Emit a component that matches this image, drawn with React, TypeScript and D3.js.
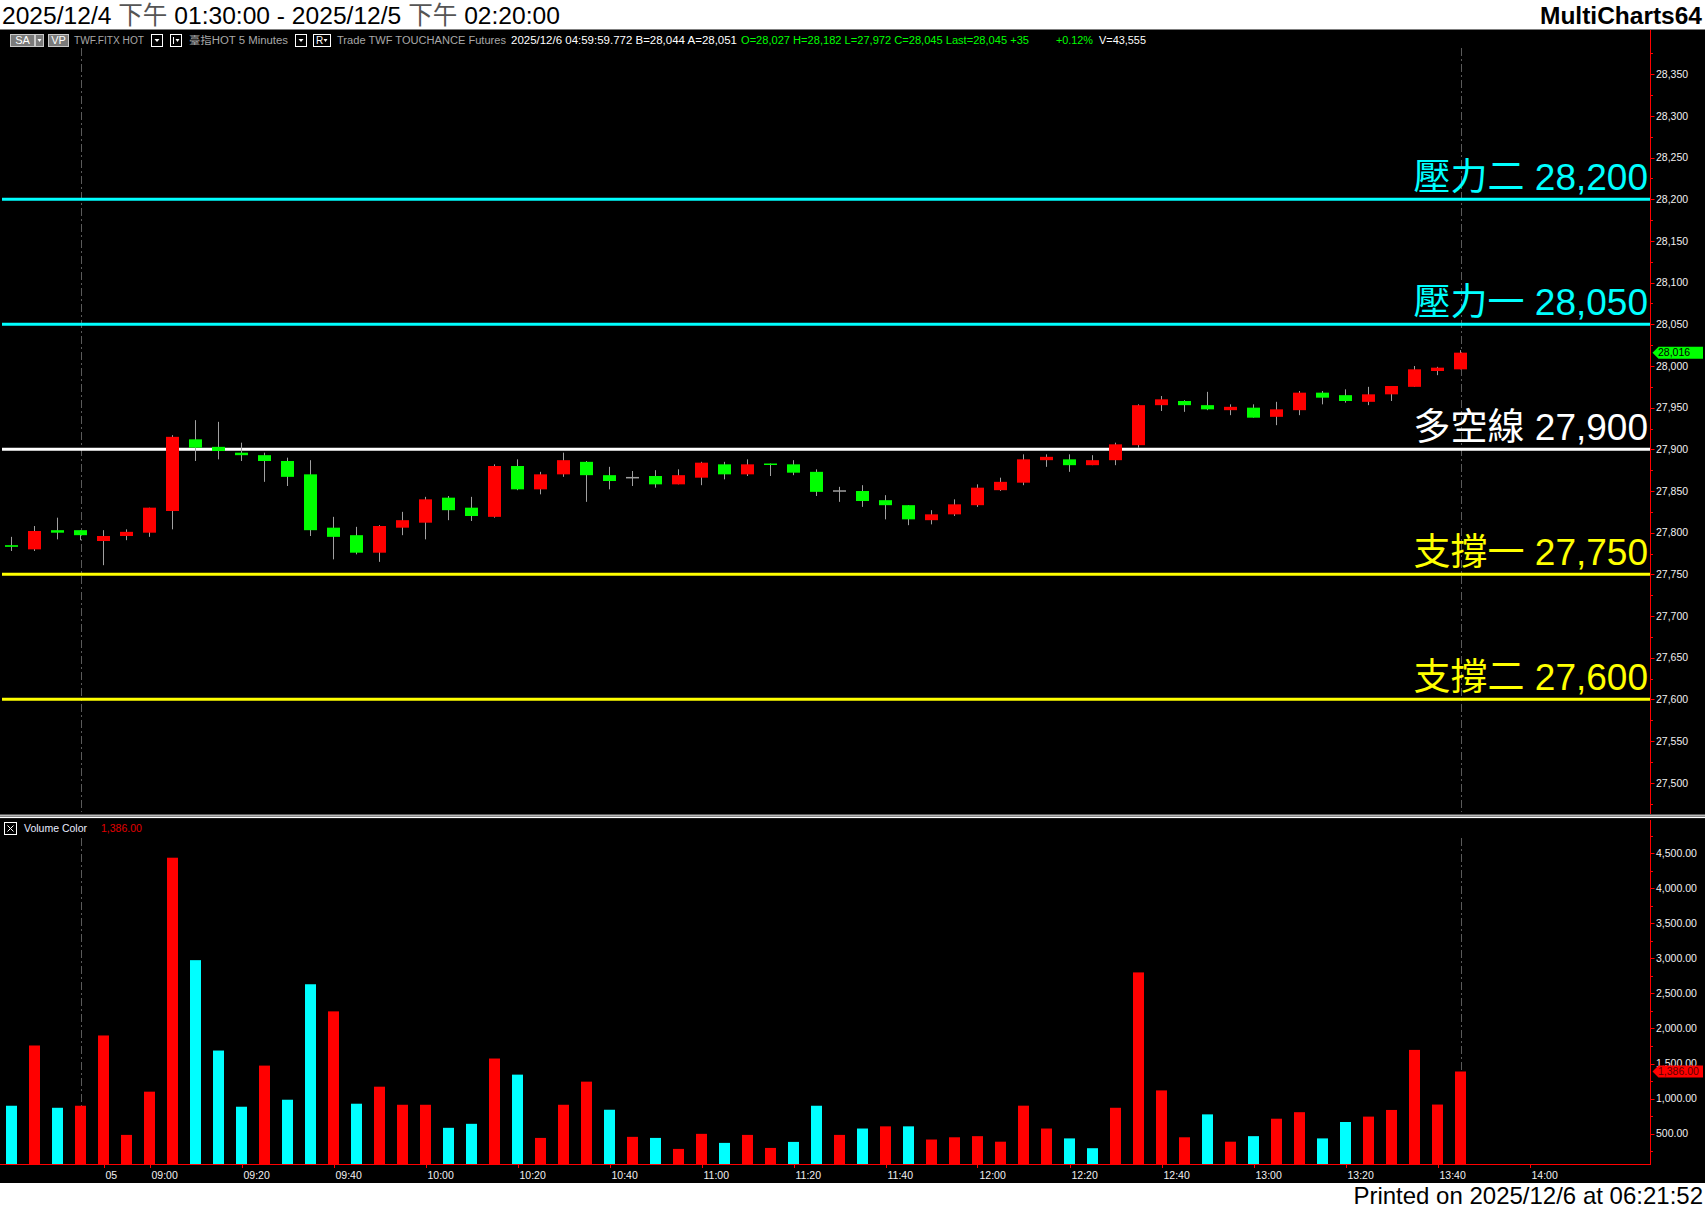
import React from 'react';
import * as d3 from 'd3';

const W = 1705;
const H = 1211;

// ---------- DATA ----------
const opens = [27785, 27780, 27803, 27803, 27790, 27796, 27800, 27826, 27912, 27903, 27896, 27893, 27886, 27870, 27806, 27797, 27776, 27806, 27812, 27842, 27830, 27819, 27880, 27852, 27870, 27885, 27869, 27866, 27868, 27858, 27866, 27882, 27870, 27883, 27882, 27873, 27850, 27850, 27839, 27833, 27815, 27822, 27833, 27851, 27860, 27887, 27888, 27881, 27887, 27905, 27953, 27958, 27953, 27947, 27950, 27939, 27947, 27968, 27965, 27957, 27966, 27975, 27994, 27996];
const highs = [27795, 27808, 27818, 27803, 27803, 27804, 27830, 27917, 27935, 27933, 27908, 27896, 27890, 27887, 27819, 27807, 27809, 27825, 27843, 27844, 27843, 27882, 27888, 27873, 27896, 27886, 27879, 27874, 27875, 27876, 27885, 27885, 27888, 27883, 27887, 27876, 27855, 27857, 27845, 27833, 27827, 27840, 27858, 27866, 27894, 27894, 27894, 27893, 27908, 27954, 27964, 27959, 27969, 27954, 27954, 27957, 27970, 27970, 27972, 27975, 27976, 28000, 27999, 28019];
const lows = [27778, 27778, 27792, 27791, 27761, 27791, 27795, 27804, 27886, 27888, 27886, 27861, 27856, 27796, 27768, 27774, 27765, 27797, 27792, 27815, 27814, 27818, 27851, 27846, 27867, 27837, 27852, 27856, 27854, 27858, 27857, 27864, 27868, 27868, 27869, 27844, 27837, 27831, 27816, 27809, 27810, 27820, 27831, 27850, 27857, 27879, 27873, 27881, 27881, 27902, 27946, 27945, 27947, 27941, 27938, 27929, 27941, 27954, 27956, 27953, 27958, 27975, 27989, 27996];
const closes = [27783, 27802, 27800, 27797, 27796, 27801, 27830, 27915, 27902, 27898, 27893, 27886, 27867, 27803, 27795, 27776, 27808, 27815, 27840, 27827, 27820, 27880, 27852, 27870, 27887, 27869, 27862, 27866, 27858, 27869, 27884, 27870, 27882, 27882, 27872, 27849, 27850, 27838, 27833, 27816, 27822, 27834, 27854, 27861, 27888, 27891, 27881, 27887, 27906, 27953, 27960, 27953, 27948, 27951, 27938, 27948, 27968, 27962, 27958, 27966, 27976, 27996, 27998, 28016];
const volumes = [897, 1757, 868, 897, 1900, 481, 1098, 4437, 2975, 1685, 883, 1470, 983, 2631, 2244, 926, 1169, 911, 911, 582, 639, 1571, 1341, 438, 911, 1241, 840, 453, 438, 281, 496, 367, 481, 295, 381, 897, 481, 572, 603, 603, 415, 447, 463, 384, 898, 572, 431, 291, 868, 2800, 1116, 447, 774, 384, 463, 712, 805, 431, 665, 742, 837, 1694, 914, 1386];
const volumeUp = [0, 1, 0, 1, 1, 1, 1, 1, 0, 0, 0, 1, 0, 0, 1, 0, 1, 1, 1, 0, 0, 1, 0, 1, 1, 1, 0, 1, 0, 1, 1, 0, 1, 1, 0, 0, 1, 0, 1, 0, 1, 1, 1, 1, 1, 1, 0, 0, 1, 1, 1, 1, 0, 1, 0, 1, 1, 0, 0, 1, 1, 1, 1, 1];

const priceTicks = [27500, 27550, 27600, 27650, 27700, 27750, 27800, 27850, 27900, 27950, 28000, 28050, 28100, 28150, 28200, 28250, 28300, 28350];
const volumeTicks = [500, 1000, 1500, 2000, 2500, 3000, 3500, 4000, 4500];
const timeLabels = ['05', '09:00', '09:20', '09:40', '10:00', '10:20', '10:40', '11:00', '11:20', '11:40', '12:00', '12:20', '12:40', '13:00', '13:20', '13:40', '14:00'];
const timeLabelBars = [4, 6, 10, 14, 18, 22, 26, 30, 34, 38, 42, 46, 50, 54, 58, 62, 66];

const levelNames = ['壓力二', '壓力一', '多空線', '支撐一', '支撐二'];
const levelValues = [28200, 28050, 27900, 27750, 27600];

const lastPrice = 28016;
const lastVolume = 1386;
const sessionBreakBar = 3;
const lastBar = 63;

// ---------- STYLE ----------
const levelColors = ['#00FFFF', '#00FFFF', '#FFFFFF', '#FFFF00', '#FFFF00'];
const FONT = "'Liberation Sans', Arial, 'Noto Sans CJK TC', sans-serif";
const UP = '#FF0000';
const DOWN = '#00FF00';
const VOL_DOWN = '#00FFFF';
const AXIS = '#FF0000';
const WICK = '#A0A0A0';

const fmt = d3.format(',');
const fmt2 = d3.format(',.2f');

export default function App() {
  const x = d3.scaleLinear().domain([0, 66]).range([11.5, 11.5 + 66 * 23]);
  const y = d3.scaleLinear().domain([27500, 28000]).range([782.7, 366]);
  const yv = d3.scaleLinear().domain([0, 4500]).range([1168.6, 853.3]);

  const axisX = 1650.5;
  const priceTop = 30;
  const priceBottom = 813;
  const volTop = 820;
  const volBottom = 1165;

  const minorPrice = d3.range(27475, 28400, 50);
  const minorVol = d3.range(250, 4800, 500);

  return (
    <svg width={W} height={H} style={{ position: 'absolute', left: 0, top: 0, display: 'block' }} fontFamily={FONT}>
      <rect x={0} y={0} width={W} height={H} fill="#FFFFFF" />
      <rect x={0} y={29.5} width={W} height={1183 - 29.5} fill="#000000" />

      {/* Title */}
      <text x={2} y={24} fontSize={24.6} fill="#000">
        <tspan>2025/12/4 </tspan>
        <tspan fill="#555">下午</tspan>
        <tspan> 01:30:00 - 2025/12/5 </tspan>
        <tspan fill="#555">下午</tspan>
        <tspan> 02:20:00</tspan>
      </text>
      <text x={1702} y={24} fontSize={24.5} fontWeight="bold" textAnchor="end" fill="#000">MultiCharts64</text>
      <text x={1703} y={1204} fontSize={24} textAnchor="end" fill="#000">Printed on 2025/12/6 at 06:21:52</text>

      {/* Toolbar */}
      <g fontSize={10}>
        <rect x={10.5} y={34.5} width={24} height={12} fill="#7a7a7a" stroke="#c8c8c8" />
        <text x={22.5} y={44} textAnchor="middle" fill="#fff" fontSize={11}>SA</text>
        <rect x={35.5} y={34.5} width={8} height={12} fill="#7a7a7a" stroke="#c8c8c8" />
        <path d="M37.5,39 L41.5,39 L39.5,42 Z" fill="#fff" />
        <rect x={48.5} y={34.5} width={20} height={12} fill="#7a7a7a" stroke="#c8c8c8" />
        <text x={58.5} y={44} textAnchor="middle" fill="#fff" fontSize={11}>VP</text>
        <text x={74} y={44} fill="#a8a8a8" textLength={70} lengthAdjust="spacingAndGlyphs">TWF.FITX HOT</text>
        <rect x={151.5} y={34.5} width={11} height={12} fill="#000" stroke="#fff" />
        <path d="M154.5,39 L159.5,39 L157,42 Z" fill="#fff" />
        <rect x={170.5} y={34.5} width={11} height={12} fill="#000" stroke="#fff" />
        <line x1={173.5} y1={37} x2={173.5} y2={44} stroke="#fff" />
        <path d="M175.5,39 L179.5,39 L177.5,42 Z" fill="#fff" />
        <text x={189} y={44} fill="#a8a8a8" textLength={99} lengthAdjust="spacingAndGlyphs">臺指HOT  5 Minutes</text>
        <rect x={295.5} y={34.5} width={11} height={12} fill="#000" stroke="#fff" />
        <path d="M298.5,39 L303.5,39 L301,42 Z" fill="#fff" />
        <rect x={313.5} y={34.5} width={17} height={12} fill="#000" stroke="#fff" />
        <text x={316} y={44} fill="#fff" fontSize={10}>R</text>
        <path d="M323.5,39 L327.5,39 L325.5,42 Z" fill="#fff" />
        <text x={337} y={44} fill="#a8a8a8" textLength={169} lengthAdjust="spacingAndGlyphs">Trade  TWF  TOUCHANCE  Futures</text>
        <text x={511} y={44} fill="#fff" textLength={226} lengthAdjust="spacingAndGlyphs">2025/12/6  04:59:59.772  B=28,044  A=28,051</text>
        <text x={741} y={44} fill="#00FF00" textLength={288} lengthAdjust="spacingAndGlyphs">O=28,027  H=28,182  L=27,972  C=28,045  Last=28,045  +35</text>
        <text x={1056} y={44} fill="#00FF00" textLength={37} lengthAdjust="spacingAndGlyphs">+0.12%</text>
        <text x={1099} y={44} fill="#fff" textLength={47} lengthAdjust="spacingAndGlyphs">V=43,555</text>
      </g>

      {/* Session break & current-bar dashed lines */}
      {[sessionBreakBar, lastBar].map((b) => (
        <g key={'d' + b}>
          <line x1={Math.round(x(b)) + 0.5} x2={Math.round(x(b)) + 0.5} y1={priceTop + 18} y2={priceBottom - 1} stroke="#5a5a5a" strokeDasharray="8,3,2,3" />
          <line x1={Math.round(x(b)) + 0.5} x2={Math.round(x(b)) + 0.5} y1={volTop + 18} y2={volBottom} stroke="#5a5a5a" strokeDasharray="8,3,2,3" />
        </g>
      ))}

      {/* Level lines */}
      {levelValues.map((v, i) => (
        <g key={'lv' + i}>
          <line x1={2} x2={axisX} y1={y(v)} y2={y(v)} stroke={levelColors[i]} strokeWidth={3} />
          <text x={1648} y={y(v) - 9} fontSize={37} textAnchor="end" fill={levelColors[i]}>
            {levelNames[i]} {fmt(v)}
          </text>
        </g>
      ))}

      {/* Candles */}
      {opens.map((o, i) => {
        const c = closes[i];
        const cx = x(i);
        const color = c > o ? UP : c < o ? DOWN : WICK;
        const top = y(Math.max(o, c));
        const h = Math.max(1.5, Math.abs(y(o) - y(c)));
        return (
          <g key={'c' + i}>
            <line x1={cx} x2={cx} y1={y(highs[i])} y2={y(lows[i])} stroke={WICK} strokeWidth={1} />
            {c === o ? (
              <line x1={cx - 6.5} x2={cx + 6.5} y1={y(o)} y2={y(o)} stroke={WICK} strokeWidth={1.5} />
            ) : (
              <rect x={cx - 6.5} y={top} width={13} height={h} fill={color} />
            )}
          </g>
        );
      })}

      {/* Volume bars */}
      {volumes.map((v, i) => (
        <rect key={'v' + i} x={x(i) - 5.5} y={yv(v)} width={11} height={volBottom - yv(v)} fill={volumeUp[i] ? UP : VOL_DOWN} />
      ))}

      {/* Pane separator */}
      <rect x={0} y={814.5} width={W} height={1.6} fill="#b8b8b8" />
      <rect x={0} y={816.5} width={W} height={1.6} fill="#ffffff" />

      {/* Volume header */}
      <rect x={4.5} y={822.5} width={12} height={12} fill="none" stroke="#ffffff" />
      <path d="M7.5,825.5 L13.5,831.5 M13.5,825.5 L7.5,831.5" stroke="#ffffff" />
      <text x={24} y={832} fontSize={10.5} fill="#e8ecff">Volume Color</text>
      <text x={101} y={832} fontSize={10.5} fill="#e00000">{fmt2(lastVolume)}</text>

      {/* Price axis */}
      <line x1={axisX} x2={axisX} y1={priceTop} y2={priceBottom + 1} stroke={AXIS} />
      {minorPrice.map((t) => (
        <line key={'mp' + t} x1={axisX} x2={axisX + 2.5} y1={Math.round(y(t)) + 0.5} y2={Math.round(y(t)) + 0.5} stroke={AXIS} />
      ))}
      {priceTicks.map((t) => (
        <g key={'pt' + t}>
          <line x1={axisX} x2={axisX + 4} y1={Math.round(y(t)) + 0.5} y2={Math.round(y(t)) + 0.5} stroke={AXIS} />
          <text x={1656} y={y(t) + 3.8} fontSize={10.5} fill="#f0f0f0">{fmt(t)}</text>
        </g>
      ))}
      <path d={`M${axisX + 2},${y(lastPrice)} L${axisX + 8},${y(lastPrice) - 6} L1703,${y(lastPrice) - 6} L1703,${y(lastPrice) + 6} L${axisX + 8},${y(lastPrice) + 6} Z`} fill="#00FF00" />
      <text x={1658} y={y(lastPrice) + 3.8} fontSize={10.5} fill="#000">{fmt(lastPrice)}</text>

      {/* Volume axis */}
      <line x1={axisX} x2={axisX} y1={volTop} y2={volBottom} stroke={AXIS} />
      <line x1={0} x2={axisX} y1={volBottom - 0.5} y2={volBottom - 0.5} stroke={AXIS} />
      {minorVol.map((t) => (
        <line key={'mv' + t} x1={axisX} x2={axisX + 2.5} y1={Math.round(yv(t)) + 0.5} y2={Math.round(yv(t)) + 0.5} stroke={AXIS} />
      ))}
      {volumeTicks.map((t) => (
        <g key={'vt' + t}>
          <line x1={axisX} x2={axisX + 4} y1={Math.round(yv(t)) + 0.5} y2={Math.round(yv(t)) + 0.5} stroke={AXIS} />
          <text x={1656} y={yv(t) + 3.8} fontSize={10.5} fill="#f0f0f0">{fmt2(t)}</text>
        </g>
      ))}
      <path d={`M${axisX + 2},${yv(lastVolume)} L${axisX + 8},${yv(lastVolume) - 6} L1703,${yv(lastVolume) - 6} L1703,${yv(lastVolume) + 6} L${axisX + 8},${yv(lastVolume) + 6} Z`} fill="#FF0000" />
      <text x={1658} y={yv(lastVolume) + 3.8} fontSize={10.5} fill="#600000">{fmt2(lastVolume)}</text>

      {/* Time axis */}
      {timeLabelBars.map((b, i) => (
        <g key={'tl' + i}>
          <line x1={Math.round(x(b)) + 0.5} x2={Math.round(x(b)) + 0.5} y1={volBottom} y2={volBottom + 3} stroke={AXIS} />
          <text x={x(b) + 2} y={1179} fontSize={10.5} fill="#f0f0f0">{timeLabels[i]}</text>
        </g>
      ))}
    </svg>
  );
}
